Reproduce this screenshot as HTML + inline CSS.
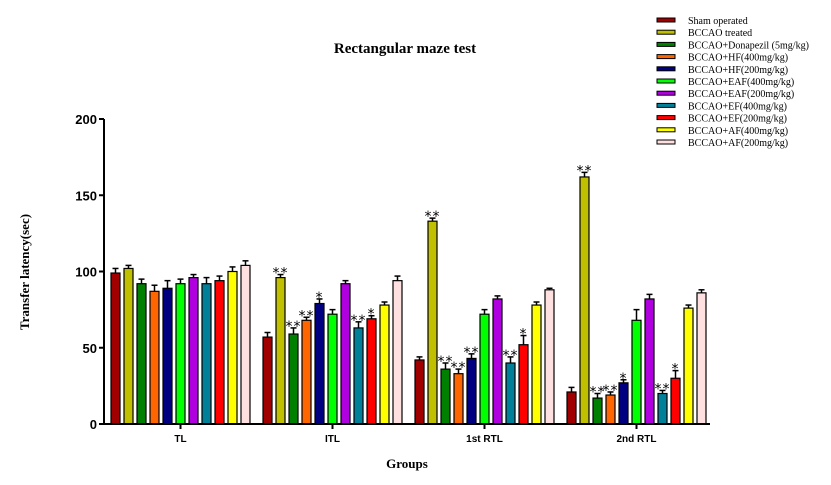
<!DOCTYPE html>
<html><head><meta charset="utf-8"><style>
body{margin:0;background:#fff;width:831px;height:485px;overflow:hidden}
svg{display:block}
</style></head><body>
<svg id="chart" width="831" height="485">
<text x="405" y="53" text-anchor="middle" font-family="Liberation Serif, serif" font-weight="bold" font-size="15">Rectangular maze test</text>
<text transform="translate(29,272) rotate(-90)" text-anchor="middle" font-family="Liberation Serif, serif" font-weight="bold" font-size="13">Transfer latency(sec)</text>
<text x="407" y="468" text-anchor="middle" font-family="Liberation Serif, serif" font-weight="bold" font-size="13">Groups</text>
<g id="plot"></g>
<g id="legend"></g>
</svg>
<script>
const categories=["TL","ITL","1st RTL","2nd RTL"];
const seriesNames=["Sham operated","BCCAO treated","BCCAO+Donapezil (5mg/kg)","BCCAO+HF(400mg/kg)","BCCAO+HF(200mg/kg)","BCCAO+EAF(400mg/kg)","BCCAO+EAF(200mg/kg)","BCCAO+EF(400mg/kg)","BCCAO+EF(200mg/kg)","BCCAO+AF(400mg/kg)","BCCAO+AF(200mg/kg)"];
const colors=["#a00000","#c0c000","#008000","#ff6600","#000080","#00ff00","#b000e0","#008099","#ff0000","#ffff00","#ffe0e0"];
const valTL=[99,102,92,87,89,92,96,92,94,100,104];
const valITL=[57,96,59,68,79,72,92,63,69,78,94];
const valRTL1=[42,133,36,33,43,72,82,40,52,78,88];
const valRTL2=[21,162,17,19,27,68,82,20,30,76,86];
const errTL=[3,2,3,4,5,3,2,4,3,3,3];
const errITL=[3,2,4,2,3,3,2,4,2,2,3];
const errRTL1=[2,2,4,3,3,3,2,4,6,2,1];
const errRTL2=[3,3,3,2,2,7,3,2,5,2,2];
const starsITL=["","**","**","**","*","","","**","*","",""];
const starsRTL1=["","**","**","**","**","","","**","*","",""];
const starsRTL2=["","**","**","**","*","","","**","*","",""];
const yTicks=[0,50,100,150,200];
const values=[valTL,valITL,valRTL1,valRTL2];
const errs=[errTL,errITL,errRTL1,errRTL2];
const stars=[["","","","","","","","","","",""],starsITL,starsRTL1,starsRTL2];
const NS="http://www.w3.org/2000/svg";
const plot=document.getElementById('plot'),leg=document.getElementById('legend');
const y=v=>424-v*1.525;
const x=(g,s)=>111+g*152+s*13;
function mk(tag,at,par){const e=document.createElementNS(NS,tag);for(const k in at)e.setAttribute(k,at[k]);par.appendChild(e);return e;}
values.forEach((vals,g)=>{vals.forEach((v,s)=>{
 const bx=x(g,s),top=y(v),et=y(v+errs[g][s]);
 const eb=mk('line',{x1:bx+4.5,x2:bx+4.5,y1:top,y2:et,stroke:'#000','stroke-width':1.5},plot);
 
 
 const cap=mk('line',{x1:bx+1.5,x2:bx+7.5,y1:et,y2:et,stroke:'#000','stroke-width':1.5},plot);
 
 
 const r=mk('rect',{x:bx,y:top,width:9,height:424-top,fill:colors[s],stroke:'#000','stroke-width':1.2},plot);
 
 
 const st=stars[g][s];
 if(st){const t=mk('text',{x:bx+4.5,y:et+3,'text-anchor':'middle','font-family':'DejaVu Sans, sans-serif','font-size':14,'letter-spacing':'1'},plot);t.textContent=st;
 
 }
});
 const cx=x(g,5)+4.5;
 const tk=mk('line',{x1:cx,x2:cx,y1:424,y2:429,stroke:'#000','stroke-width':2},plot);
 
 
 const lb=mk('text',{x:cx,y:442,'text-anchor':'middle','font-family':'Liberation Sans, sans-serif','font-weight':'bold','font-size':10},plot);lb.textContent=categories[g];
 
 
});
yTicks.forEach(t=>{
 const l=mk('line',{x1:99,x2:104,y1:y(t),y2:y(t),stroke:'#000','stroke-width':2},plot);
 
 
 const tx=mk('text',{x:97,y:y(t)+5,'text-anchor':'end','font-family':'Liberation Sans, sans-serif','font-weight':'bold','font-size':13},plot);tx.textContent=t;
 
 
});
const ya=mk('line',{x1:104,x2:104,y1:y(200),y2:425,stroke:'#000','stroke-width':2},plot);


const xa=mk('line',{x1:103,x2:710,y1:424,y2:424,stroke:'#000','stroke-width':2},plot);


seriesNames.forEach((n,i)=>{
 const ly=18+i*12.2;
 const sw=mk('rect',{x:657,y:ly,width:18,height:4,fill:colors[i],stroke:'#000','stroke-width':1},leg);
 
 
 const t=mk('text',{x:688,y:ly+6,'font-family':'Liberation Serif, serif','font-size':10},leg);t.textContent=n;
 
 
});
</script>
</body></html>
